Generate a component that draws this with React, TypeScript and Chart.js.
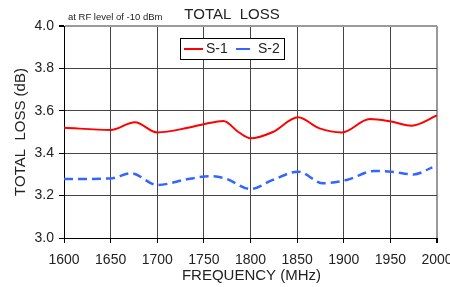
import React, { useEffect, useRef } from "react";
import { Chart, registerables } from "chart.js";

Chart.register(...registerables);

const s1Freq = [1600, 1650, 1676, 1700, 1733, 1751, 1771, 1787, 1800, 1824, 1851, 1874, 1898, 1928, 1951, 1973, 2000];
const s1Loss = [3.52, 3.51, 3.546, 3.498, 3.52, 3.538, 3.552, 3.5, 3.47, 3.5, 3.569, 3.517, 3.498, 3.561, 3.549, 3.53, 3.578];
const s2Freq = [1600, 1650, 1672, 1700, 1733, 1757, 1773, 1800, 1824, 1851, 1878, 1903, 1933, 1951, 1975, 1995];
const s2Loss = [3.278, 3.281, 3.305, 3.25, 3.278, 3.292, 3.281, 3.231, 3.274, 3.313, 3.258, 3.274, 3.316, 3.313, 3.3, 3.333];
const seriesNames = ["S-1", "S-2"];
const chartTitle = "TOTAL  LOSS";
const subTitle = "at RF level of -10 dBm";
const xTitle = "FREQUENCY (MHz)";
const yTitle = "TOTAL  LOSS (dB)";

const FONT = "Arial, 'Liberation Sans', sans-serif";
const RED = "#ff0000";
const BLUE = "#3366ff";

export default function App() {
  const ref = useRef<HTMLCanvasElement | null>(null);
  useEffect(() => {
    const canvas = ref.current;
    if (!canvas) return;
    const textPlugin = {
      id: "texts",
      afterDraw(chart: any) {
        const ctx = chart.ctx;
        const ca = chart.chartArea;
        ctx.save();
        ctx.fillStyle = "#222";
        ctx.textBaseline = "middle";
        ctx.font = `9.5px ${FONT}`;
        ctx.textAlign = "left";
        ctx.fillText(subTitle, 68, 17);
        ctx.font = `15px ${FONT}`;
        ctx.textAlign = "center";
        ctx.fillText(chartTitle, 232, 15);
        ctx.fillText(xTitle, (ca.left + ca.right) / 2 + 1, 276);
        ctx.save();
        ctx.translate(21, (ca.top + ca.bottom) / 2);
        ctx.rotate(-Math.PI / 2);
        ctx.fillText(yTitle, 0, 0);
        ctx.restore();
        ctx.fillStyle = "#fff";
        ctx.fillRect(180.5, 38.5, 104, 21);
        ctx.strokeStyle = "#000";
        ctx.lineWidth = 1;
        ctx.strokeRect(180.5, 38.5, 104, 21);
        ctx.lineWidth = 2;
        ctx.strokeStyle = RED;
        ctx.beginPath();
        ctx.moveTo(184, 49);
        ctx.lineTo(203, 49);
        ctx.stroke();
        ctx.strokeStyle = BLUE;
        ctx.beginPath();
        ctx.moveTo(236, 49);
        ctx.lineTo(250, 49);
        ctx.stroke();
        ctx.fillStyle = "#222";
        ctx.font = `14px ${FONT}`;
        ctx.textAlign = "left";
        ctx.fillText(seriesNames[0], 206, 49.5);
        ctx.fillText(seriesNames[1], 258, 49.5);
        ctx.restore();
      },
    };
    const chart = new Chart(canvas, {
      type: "line",
      data: {
        datasets: [
          {
            label: seriesNames[0],
            data: s1Freq.map((f, i) => ({ x: f, y: s1Loss[i] })),
            borderColor: RED,
            borderWidth: 2,
            pointRadius: 0,
            cubicInterpolationMode: "monotone",
            fill: false,
          },
          {
            label: seriesNames[1],
            data: s2Freq.map((f, i) => ({ x: f, y: s2Loss[i] })),
            borderColor: BLUE,
            borderWidth: 2.5,
            borderDash: [9, 5],
            pointRadius: 0,
            cubicInterpolationMode: "monotone",
            fill: false,
          },
        ],
      },
      options: {
        responsive: false,
        animation: false,
        devicePixelRatio: 1,
        layout: { padding: { top: 26, right: 13, left: 0, bottom: 0 } },
        plugins: { legend: { display: false }, tooltip: { enabled: false }, title: { display: false } },
        scales: {
          x: {
            type: "linear",
            min: 1600,
            max: 2000,
            ticks: {
              stepSize: 50,
              color: "#222",
              font: { family: FONT, size: 14 },
              padding: 9,
              maxRotation: 0,
              autoSkip: false,
              callback: (v: any) => String(v),
            },
            grid: {
              color: (c: any) => (c.tick && c.tick.value === 2000 ? "#9a9a9a" : "#444"),
              lineWidth: (c: any) => (c.tick && c.tick.value === 2000 ? 2 : 1),
              tickColor: "#000",
              tickLength: 5,
            },
            border: { display: true, color: "#000", width: 1 },
            afterFit: (s: any) => {
              s.height = 49;
              s.paddingLeft = 0;
              s.paddingRight = 0;
            },
          },
          y: {
            min: 3,
            max: 4,
            ticks: { stepSize: 0.2, color: "#222", font: { family: FONT, size: 14 }, padding: 5, callback: (v: any) => Number(v).toFixed(1) },
            grid: {
              color: (c: any) => (c.tick && Math.abs(c.tick.value - 4) < 1e-6 ? "#9a9a9a" : "#444"),
              lineWidth: (c: any) => (c.tick && Math.abs(c.tick.value - 4) < 1e-6 ? 2 : 1),
              tickColor: "#000",
              tickLength: 5,
            },
            border: { display: true, color: "#000", width: 1 },
            afterFit: (s: any) => {
              s.width = 64;
              s.paddingTop = 0;
              s.paddingBottom = 0;
            },
          },
        },
      },
      plugins: [textPlugin],
    } as any);
    return () => chart.destroy();
  }, []);
  return (
    <div style={{ position: "absolute", left: 0, top: 0, width: 450, height: 287, background: "#fff" }}>
      <canvas ref={ref} width={450} height={287} style={{ display: "block" }} />
    </div>
  );
}
